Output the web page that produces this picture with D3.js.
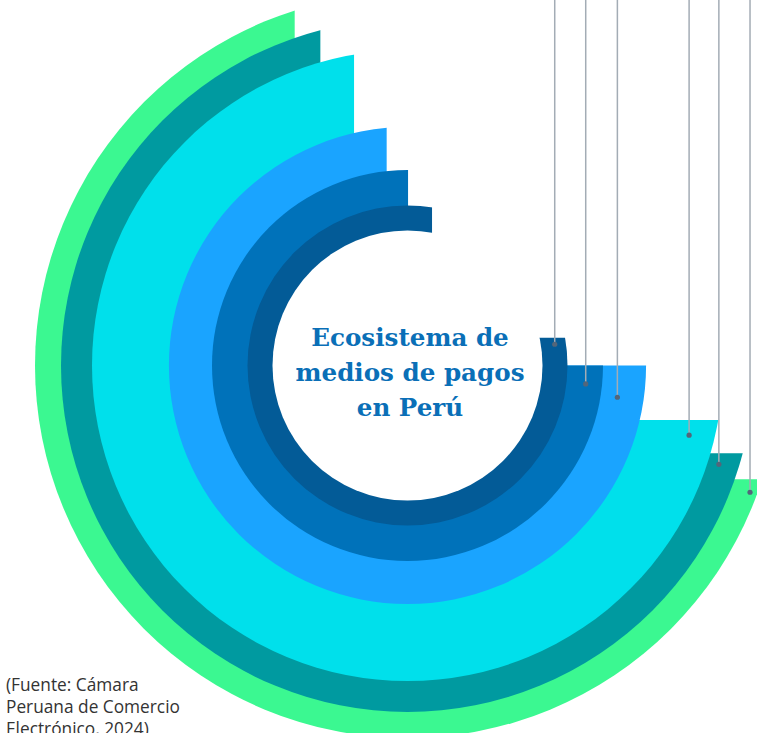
<!DOCTYPE html>
<html>
<head>
<meta charset="utf-8">
<script src="https://cdn.jsdelivr.net/npm/d3@7"></script>
<style>
  body { margin: 0; background: #fff; }
  svg { display: block; }
</style>
</head>
<body>
<div id="viz"></div>
<script>
// rings listed from the inside out
// angles in percent of a full turn, clockwise from 12 o'clock
const rings = ['ring1', 'ring2', 'ring3', 'ring4', 'ring5', 'ring6'];
const startPct = [22.0, 25.0, 25.0, 28.15, 29.27, 30.12];
const endPct = [102.66, 100.05, 98.47, 96.91, 95.76, 94.92];
const ringDepth = [25, 35.5, 43, 77, 31, 26];
const markerPct = [22.72, 26.64, 27.39, 28.86, 29.89, 30.64];
const markerDepth = [0.55, 0.54, 0.39, 0.67, 0.36, 0.72];
const titleLines = ['Ecosistema de', 'medios de pagos', 'en Perú'];
const sourceLines = ['(Fuente: Cámara', 'Peruana de Comercio', 'Electrónico, 2024)'];

const colors = ['#035b97', '#0072ba', '#1aa4ff', '#00e0eb', '#009aa0', '#3bf891'];

const width = 757;
const height = 733;
const cx = 407.5;
const cy = 365.5;

const outerEdge = d3.cumsum(ringDepth);
const rScale = d3.scaleLinear()
  .domain([0, d3.sum(ringDepth)])
  .range([135, 372.5]);
const aScale = d3.scaleLinear()
  .domain([0, 100])
  .range([0, 2 * Math.PI]);

const data = rings.map((name, i) => {
  const rOut = rScale(outerEdge[i]);
  const rIn = rScale(outerEdge[i] - ringDepth[i]);
  const rMid = (rOut + rIn) / 2;
  const a0 = aScale(startPct[i]);
  const a1 = aScale(endPct[i]);
  const ma = aScale(markerPct[i]);
  const mr = rIn + markerDepth[i] * (rOut - rIn);
  return {
    name, i, rOut, rIn,
    cutX: rMid * Math.sin(a1),
    cutY: -rMid * Math.cos(a0),
    mx: mr * Math.sin(ma),
    my: -mr * Math.cos(ma)
  };
});

const svg = d3.select('#viz')
  .append('svg')
  .attr('width', width)
  .attr('height', height);

const defs = svg.append('defs');
const B = 2000;

defs.selectAll('clipPath')
  .data(data)
  .enter().append('clipPath')
    .attr('id', (d) => `cut-${d.i}`)
  .append('path')
    .attr('d', (d) => d3.line()([
      [-B, -B], [d.cutX, -B], [d.cutX, d.cutY],
      [B, d.cutY], [B, B], [-B, B]
    ]) + 'Z');

const disc = d3.arc()
  .innerRadius(0)
  .startAngle(0)
  .endAngle(2 * Math.PI);

const plot = svg.append('g')
  .attr('transform', `translate(${cx}, ${cy})`);

// biggest first so the smaller ones sit on top
plot.selectAll('path.ring')
  .data(data.slice().reverse())
  .enter().append('path')
    .attr('class', 'ring')
    .attr('d', (d) => disc.outerRadius(d.rOut)())
    .attr('clip-path', (d) => `url(#cut-${d.i})`)
    .attr('fill', (d) => colors[d.i]);

plot.append('circle')
  .attr('r', rScale(0))
  .attr('fill', '#fff');

// leader lines coming down from the (cropped) labels
const callouts = plot.selectAll('g.callout')
  .data(data)
  .enter().append('g')
    .attr('class', 'callout');

callouts.append('line')
  .attr('x1', (d) => d.mx)
  .attr('x2', (d) => d.mx)
  .attr('y1', -cy)
  .attr('y2', (d) => d.my)
  .attr('stroke', '#a3acb5')
  .attr('stroke-width', 1.5);

callouts.append('circle')
  .attr('cx', (d) => d.mx)
  .attr('cy', (d) => d.my)
  .attr('r', 2.6)
  .attr('fill', '#53667a');

svg.append('text')
  .attr('text-anchor', 'middle')
  .attr('font-family', '"DejaVu Serif", serif')
  .attr('font-weight', 'bold')
  .attr('font-size', 24.6)
  .attr('fill', '#0a6fb7')
  .selectAll('tspan')
  .data(titleLines)
  .enter().append('tspan')
    .attr('x', 410)
    .attr('y', (d, i) => 346 + i * 35)
    .text((d) => d);

svg.append('text')
  .attr('font-family', '"Open Sans", sans-serif')
  .attr('font-size', 17.3)
  .attr('fill', '#333')
  .selectAll('tspan')
  .data(sourceLines)
  .enter().append('tspan')
    .attr('x', 6)
    .attr('y', (d, i) => 691 + i * 22)
    .text((d) => d);
</script>
</body>
</html>
